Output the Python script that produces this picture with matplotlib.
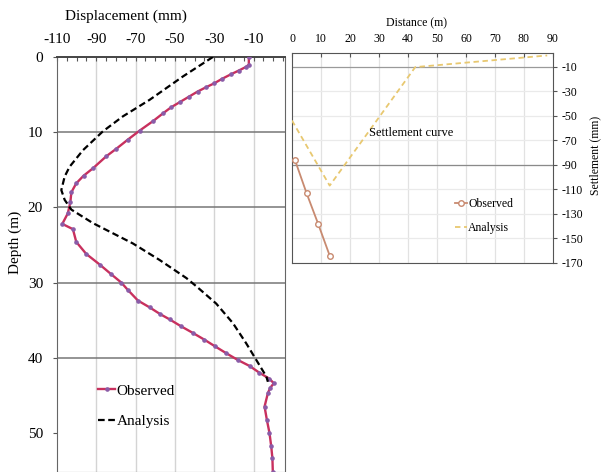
import matplotlib.pyplot as plt
from matplotlib.lines import Line2D

plt.rcParams['font.family'] = ['Liberation Serif', 'DejaVu Serif']
plt.rcParams['axes.unicode_minus'] = False

# ----- inclinometer profile (left) -----
obs_disp = [-12.4, -12.4, -13.7, -17.5, -21.5, -26.0, -30.0, -34.0, -38.5, -43.0, -47.5, -52.0,
            -56.1, -61.0, -68.0, -74.0, -79.8, -84.9, -91.7, -96.5, -100.2, -102.7, -103.2,
            -104.5, -107.3, -101.9, -100.2, -95.1, -88.3, -82.4, -77.3, -73.9, -68.8, -62.9,
            -57.5, -52.7, -47.0, -40.9, -35.0, -29.5, -23.9, -18.0, -12.0, -7.0, -1.9, 0.3,
            -1.5, -2.7, -4.4, -3.2, -1.9, -1.0, -0.4, -0.2]
obs_depth = [0.0, 1.0, 1.3, 1.8, 2.3, 2.9, 3.5, 4.0, 4.6, 5.3, 6.0, 6.7,
             7.5, 8.5, 9.8, 11.0, 12.2, 13.2, 14.8, 15.8, 16.8, 18.0, 19.3,
             20.8, 22.2, 22.9, 24.6, 26.2, 27.6, 28.9, 30.0, 31.0, 32.4, 33.3,
             34.2, 34.9, 35.8, 36.7, 37.6, 38.5, 39.4, 40.3, 41.1, 42.0, 42.8, 43.4,
             44.0, 44.7, 46.5, 48.3, 50.0, 51.8, 53.4, 55.2]

ana_disp = [-30.7, -46.0, -62.9, -76.5, -86.7, -96.8, -103.6, -106.1, -107.8, -106.1,
            -102.7, -91.7, -71.4, -57.8, -44.2, -39.1, -29.0, -20.5, -13.7, -8.6, -3.5, -2.7]
ana_depth = [0.0, 2.6, 5.7, 7.9, 9.9, 12.4, 14.6, 15.9, 17.7, 19.0,
             20.3, 22.1, 24.8, 27.0, 29.4, 30.5, 32.8, 35.4, 38.1, 40.3, 42.5, 43.2]

disp_ticks = [-110, -90, -70, -50, -30, -10]
depth_ticks = [0, 10, 20, 30, 40, 50]

# ----- settlement curve (right) -----
obs_dist = [1, 5, 9, 13]
obs_settle = [-86, -113, -138, -164]
ana_dist = [0, 13, 42.5, 88]
ana_settle = [-54, -107, -10.5, -1]

dist_ticks = list(range(0, 100, 10))
settle_ticks = [-10, -30, -50, -70, -90, -110, -130, -150, -170]

W, H = 602, 472
fig = plt.figure(figsize=(6.02, 4.72), dpi=100)

# left panel
ax = fig.add_axes([57 / W, 0, 228 / W, 1 - 57 / H])
ax.plot(obs_disp, obs_depth, color='#C8305E', lw=1.7, marker='o', ms=2.3,
        mfc='#8A5CA8', mec='#8A5CA8', zorder=3)
ax.plot(ana_disp, ana_depth, color='black', lw=1.6, ls=(0, (3, 1.6)), zorder=4)
ax.set_xlim(-110, 6)
ax.set_ylim(55.2, 0)
ax.xaxis.tick_top()
ax.set_xticks(disp_ticks)
ax.set_xticks(range(-110, 6, 5), minor=True)
ax.set_yticks(depth_ticks)
ax.tick_params(axis='x', which='both', direction='in', length=3, width=0.8,
               labelsize=11, pad=8, color='#555555')
ax.tick_params(axis='y', direction='out', length=3, labelsize=11, pad=7, color='#555555')
for x in disp_ticks[1:]:
    ax.axvline(x, color='#d4d4d4', lw=1, zorder=1)
for d in depth_ticks[1:5]:
    ax.axhline(d, color='#777777', lw=1.1, zorder=1)
for s in ax.spines.values():
    s.set_color('#666666')
ax.spines['top'].set_color('#444444')
ax.spines['top'].set_linewidth(1.4)

handles = [Line2D([], [], color='#C8305E', lw=1.7, marker='o', ms=2.3,
                  mfc='#8A5CA8', mec='#8A5CA8', markevery=[1]),
           Line2D([], [], color='black', lw=1.6, ls=(0, (3, 1.6)))]
ax.legend(handles, ['Observed', 'Analysis'], loc='upper left',
          bbox_to_anchor=(0.12, 0.245), frameon=False, fontsize=11,
          handlelength=1.1, handletextpad=0.1, labelspacing=1.1)

fig.text(126 / W, 1 - 16 / H, 'Displacement (mm)', ha='center', va='center', fontsize=11)
fig.text(15 / W, 1 - 242 / H, 'Depth (m)', ha='center', va='center', rotation=90, fontsize=11)

# right panel
ax2 = fig.add_axes([292 / W, 1 - 263 / H, 261 / W, 210 / H])
ax2.plot(obs_dist, obs_settle, color='#C88A70', lw=1.3, marker='o', ms=4,
         mfc='white', mec='#C88A70', mew=1, label='Observed', zorder=3)
ax2.plot(ana_dist, ana_settle, color='#E8C870', lw=1.3, ls=(0, (3, 2)),
         label='Analysis', zorder=3)
ax2.set_xlim(0, 90)
ax2.set_ylim(-170, 1)
ax2.xaxis.tick_top()
ax2.yaxis.tick_right()
ax2.set_xticks(dist_ticks)
ax2.set_yticks(settle_ticks)
ax2.tick_params(axis='x', direction='in', length=3, labelsize=8.5, pad=6, color='#555555')
ax2.tick_params(axis='y', direction='out', length=3, labelsize=8.5, pad=3, color='#555555')
for x in dist_ticks[1:-1]:
    ax2.axvline(x, color='#e2e2e2', lw=0.9, zorder=1)
for y in settle_ticks[1:]:
    ax2.axhline(y, color='#eaeaea', lw=0.9, zorder=1)
ax2.axhline(-10, color='#9a9a9a', lw=0.9, zorder=1)
ax2.axhline(-90, color='#8a8a8a', lw=0.9, zorder=1)
for s in ax2.spines.values():
    s.set_color('#555555')
ax2.text(41, -64, 'Settlement curve', ha='center', va='center', fontsize=9)
ax2.legend(loc='upper left', bbox_to_anchor=(0.585, 0.36), frameon=False, fontsize=8.5,
           handlelength=1.0, handletextpad=0.1, labelspacing=1.0)

fig.text(417 / W, 1 - 23 / H, 'Distance (m)', ha='center', va='center', fontsize=8.5)
fig.text(595 / W, 1 - 155 / H, 'Settlement (mm)', ha='center', va='center',
         rotation=90, fontsize=8.5)

fig.savefig('out.png', dpi=100)
